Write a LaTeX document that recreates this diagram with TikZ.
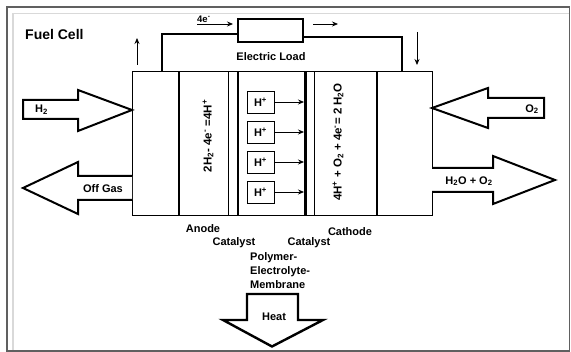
\documentclass[tikz,border=0pt]{standalone}
\usepackage{fontspec}
\setmainfont{Liberation Sans}
\usetikzlibrary{arrows.meta}
\begin{document}
\begin{tikzpicture}[x=1pt,y=-1pt,
  lbl/.style={font=\fontsize{11}{13}\selectfont\bfseries, inner sep=0pt},
  blockarrow/.style={line width=2pt, line join=miter, fill=white},
  hbox/.style={draw, line width=0.8pt, minimum width=27pt, minimum height=22pt, inner sep=0pt, font=\fontsize{11}{13}\selectfont\bfseries},
  small/.style={-{Stealth[length=6pt,width=5pt]}, line width=0.8pt},
  wire/.style={line width=2.2pt}
]
\useasboundingbox (0,0) rectangle (571,352);
% frame
\draw[gray!75!black, line width=1.2pt] (7,7) rectangle (569.5,351);
\draw[gray!30, line width=1.2pt] (13,13.5) -- (568.5,13.5);
\draw[gray!30, line width=1.2pt] (13,13.5) -- (13,350);
\node[lbl, font=\fontsize{14}{16}\selectfont\bfseries, anchor=west] (title) at (25,35) {Fuel Cell};

% main cell
\draw[line width=1pt] (132,72) rectangle (432,216);
\draw[line width=2pt] (179,72) -- (179,216);
\draw[line width=0.8pt] (228,72) -- (228,216);
\draw[line width=1.6pt] (238,72) -- (238,216);
\draw[line width=3pt] (305,72) -- (305,216);
\draw[line width=0.8pt] (314,72) -- (314,216);
\draw[line width=2pt] (377,72) -- (377,216);

\node[lbl, rotate=90, font=\fontsize{11.5}{13}\selectfont\bfseries] (anodeeq) at (208,136) {2H\textsubscript{2}- 4e\textsuperscript{-} =4H\textsuperscript{+}};
\node[lbl, rotate=90, font=\fontsize{11.5}{13}\selectfont\bfseries] (cathodeeq) at (338,142) {4H\textsuperscript{+} + O\textsubscript{2} + 4e\textsuperscript{-}= 2 H\textsubscript{2}O};

% H+ boxes
\foreach \i/\yy in {1/102,2/132,3/162,4/192}{
  \node[hbox] (h\i) at (260.5,\yy) {H\textsuperscript{+}};
  \coordinate (m\i) at (304,\yy);
  \draw[small] (h\i.east) -- (m\i);
}

% circuit
\node[draw, line width=1.5pt, minimum width=65pt, minimum height=23pt, inner sep=0pt] (load) at (270.5,30.5) {};
\coordinate (aT) at (162,72);
\coordinate (cT) at (402,72);
\draw[wire] (aT) |- (load.west |- 0,34);
\draw[wire] (load.east |- 0,37) -| (cT);
\node[lbl] (eload) at (271,57) {Electric Load};
\node[lbl, font=\fontsize{9.5}{10}\selectfont\bfseries, anchor=south west] (fe) at (197,23) {4e\textsuperscript{-}};
\coordinate (e1) at (197,24); \coordinate (e2) at (233,24);
\draw[small] (e1) -- (e2);
\coordinate (e3) at (313,24); \coordinate (e4) at (338,24);
\draw[small] (e3) -- (e4);
\coordinate (u1) at (137,65); \coordinate (u2) at (137,38);
\draw[small] (u1) -- (u2);
\coordinate (d1) at (417,32); \coordinate (d2) at (417,65);
\draw[small] (d1) -- (d2);

% block arrows
\draw[blockarrow] (23,100) -- (78,100) -- (78,90) -- (132,110) -- (78,131) -- (78,119) -- (23,119) -- cycle;
\node[lbl, anchor=west] (h2) at (35,110) {H\textsubscript{2}};

\draw[blockarrow] (132,176) -- (78,176) -- (78,162) -- (23,188) -- (78,214) -- (78,200) -- (132,200);
\node[lbl] (off) at (103,189) {Off Gas};

\draw[blockarrow] (432,108) -- (488,88) -- (488,98) -- (544,98) -- (544,118) -- (488,118) -- (488,128) -- cycle;
\node[lbl] (o2) at (532,109) {O\textsubscript{2}};

\draw[blockarrow] (432,168) -- (493,168) -- (493,156) -- (555,180) -- (493,204) -- (493,192) -- (432,192);
\node[lbl] (h2o) at (469,181) {H\textsubscript{2}O + O\textsubscript{2}};

\draw[blockarrow, line width=2.4pt] (247,294) -- (298,294) -- (298,320) -- (323,320) -- (272,346.5) -- (223,320) -- (247,320) -- cycle;
\node[lbl] (heat) at (274,317) {Heat};

% layer labels
\node[lbl] (anode) at (203,229) {Anode};
\node[lbl] (cat1) at (234,243) {Catalyst};
\node[lbl] (cat2) at (309,243) {Catalyst};
\node[lbl] (cathode) at (350,232) {Cathode};
\node[lbl, anchor=north west, align=left, font=\fontsize{11}{14}\selectfont\bfseries] (pem) at (250,252) {Polymer-\\Electrolyte-\\Membrane};
\end{tikzpicture}
\end{document}
